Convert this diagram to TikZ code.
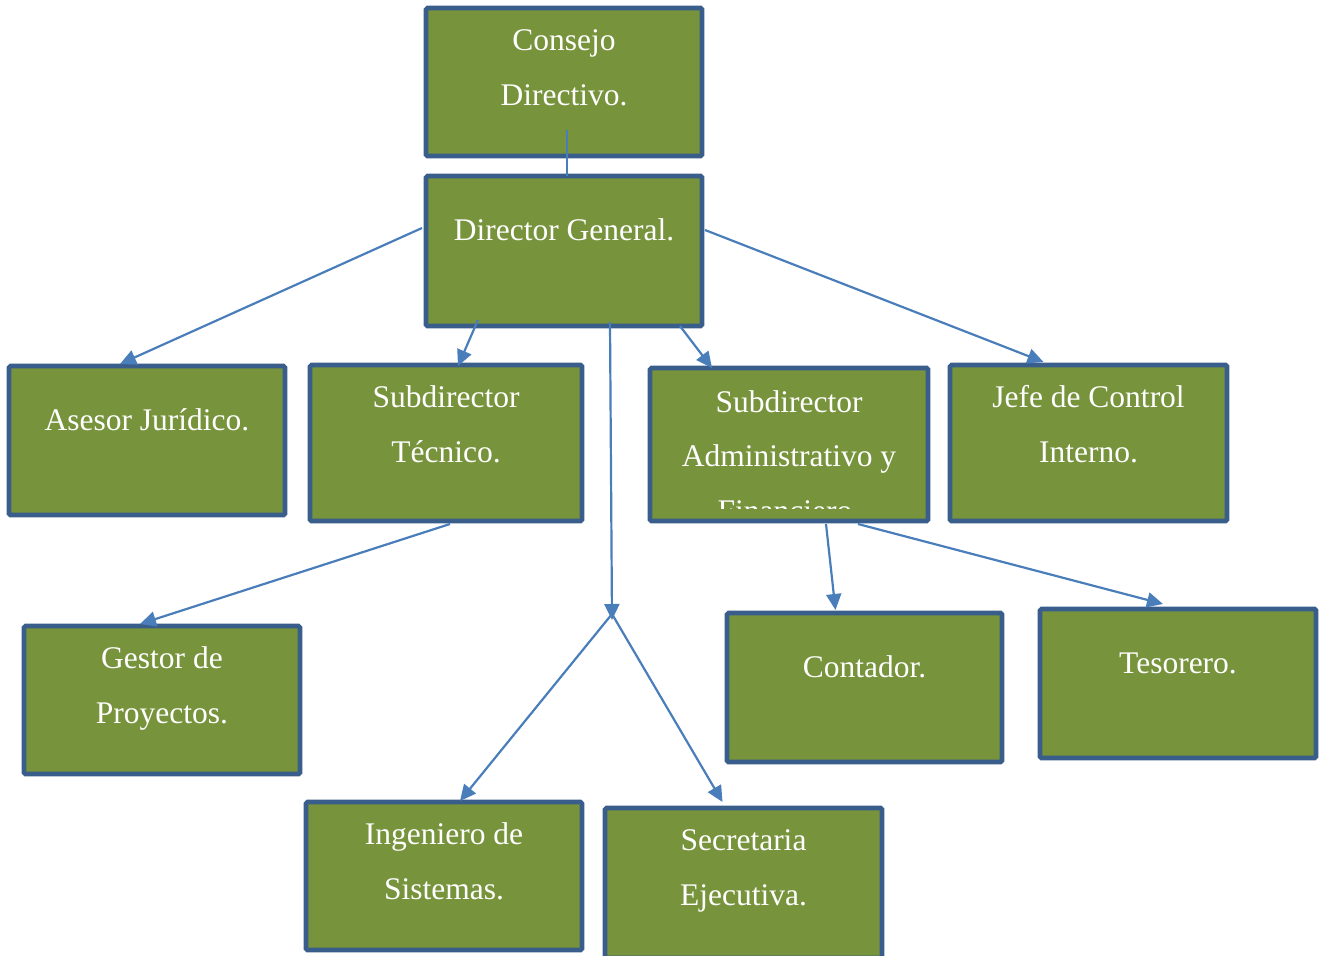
\documentclass[tikz,border=0pt]{standalone}
\usepackage{fontspec}
\setmainfont{Liberation Serif}
\usetikzlibrary{arrows.meta,calc}
\definecolor{boxfill}{HTML}{77933C}
\definecolor{boxline}{HTML}{3A5E8C}
\definecolor{conn}{HTML}{4A7EBB}
\begin{document}
\begin{tikzpicture}[x=1pt,y=-1pt,
  orgbox/.style={draw=boxline,fill=boxfill,line width=4.6pt,rounded corners=1.5pt,inner sep=0pt,outer sep=0pt},
  lbl/.style={anchor=base,text=white,inner sep=0pt,font=\fontsize{31.5}{38}\selectfont},
  arr/.style={draw=conn,line width=2.2pt,-{Triangle[length=16pt,width=15pt]}},
  plain/.style={draw=conn,line width=2.2pt}]
\useasboundingbox (0,0) rectangle (1326,956);
% boxes
\node[orgbox,minimum width=276pt,minimum height=148pt] (cd) at (564,82) {};
\node[orgbox,minimum width=276pt,minimum height=150pt] (dg) at (564,251) {};
\node[orgbox,minimum width=276pt,minimum height=149pt] (aj) at (147,440.5) {};
\node[orgbox,minimum width=272pt,minimum height=156pt] (st) at (446,443) {};
\node[orgbox,minimum width=278pt,minimum height=153pt] (sa) at (789,444.5) {};
\node[orgbox,minimum width=277pt,minimum height=156pt] (jc) at (1088.5,443) {};
\node[orgbox,minimum width=276pt,minimum height=148pt] (gp) at (162,700) {};
\node[orgbox,minimum width=275pt,minimum height=149pt] (co) at (864.5,687.5) {};
\node[orgbox,minimum width=276pt,minimum height=149pt] (te) at (1178,683.5) {};
\node[orgbox,minimum width=276pt,minimum height=148pt] (is) at (444,876) {};
\node[orgbox,minimum width=277pt,minimum height=150pt] (se) at (743.5,883) {};
% texts
\node[lbl] (t1) at (564,50) {Consejo};
\node[lbl] (t2) at (564,105) {Directivo.};
\node[lbl] (t3) at (564,240) {Director General.};
\node[lbl] (t4) at (147,430) {Asesor Jurídico.};
\node[lbl] (t5) at (446,407) {Subdirector};
\node[lbl] (t6) at (446,462) {Técnico.};
\node[lbl] (t7) at (789,412) {Subdirector};
\node[lbl] (t8) at (789,466) {Administrativo y};
\begin{scope}
\clip (652,370) rectangle (926,508);
\node[lbl] (t9) at (785,521) {Financiero};
\end{scope}
\node[lbl] (t10) at (1088.5,407) {Jefe de Control};
\node[lbl] (t11) at (1088.5,462) {Interno.};
\node[lbl] (t12) at (162,668) {Gestor de};
\node[lbl] (t13) at (162,723) {Proyectos.};
\node[lbl] (t14) at (864.5,677) {Contador.};
\node[lbl] (t15) at (1178,673) {Tesorero.};
\node[lbl] (t16) at (444,844) {Ingeniero de};
\node[lbl] (t17) at (444,899) {Sistemas.};
\node[lbl] (t18) at (743.5,850) {Secretaria};
\node[lbl] (t19) at (743.5,905) {Ejecutiva.};
% connectors
\coordinate (j) at ($(dg.center)+(48,369)$);
\draw[plain] ($(cd.center)+(3,48)$) -- (dg.north -| {$(cd.center)+(3,0)$});
\draw[arr] ($(dg.center)+(-142,-23)$) -- ($(aj.north)+(-27,-2)$);
\draw[arr] ($(dg.center)+(-86,69)$) -- ($(st.north)+(12,1)$);
\draw[arr] ($(dg.center)+(46,71)$) -- (j);
\draw[arr] ($(dg.center)+(116,75)$) -- ($(sa.north)+(-77,0)$);
\draw[arr] ($(dg.center)+(141,-21)$) -- ($(jc.north)+(-45,-3)$);
\draw[arr] ($(j)+(0,-6)$) -- ($(is.north)+(16,-1)$);
\draw[arr] ($(j)+(0,-6)$) -- ($(se.north)+(-21,-6)$);
\draw[arr] ($(st.south)+(4,3)$) -- ($(gp.north)+(-22,-2)$);
\draw[arr] ($(sa.south)+(37,3)$) -- ($(co.north)+(-29,-3)$);
\draw[arr] ($(sa.south)+(69,3)$) -- ($(te.north)+(-15,-5)$);
\end{tikzpicture}
\end{document}
